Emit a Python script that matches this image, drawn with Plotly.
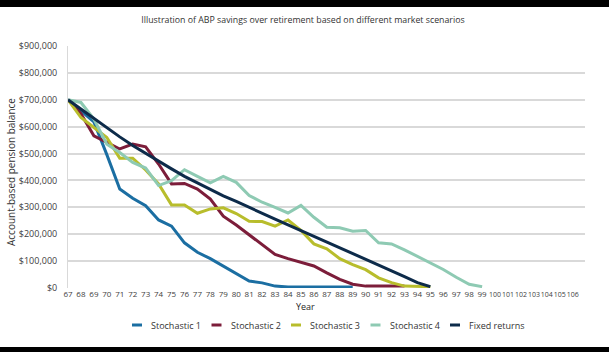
import plotly.graph_objects as go

W, H = 609, 352
ML, MR, MT, MB = 68, 24, 46, 64

years = list(range(67, 107))
tick_labels = [str(y) if y < 100 else "<span style='font-size:7px'>%d</span>" % y for y in years]

stochastic_1 = [700000, 660000, 618000, 496000, 368000, 334000, 306000, 253000, 230000, 168000,
                133000, 109000, 82000, 53000, 26000, 19000, 7000, 4000, 4000, 4000,
                4000, 4000, 4000]
stochastic_2 = [700000, 648000, 566000, 541000, 517000, 535000, 525000, 461000, 387000, 389000,
                368000, 331000, 267000, 234000, 197000, 162000, 125000, 109000, 96000, 82000,
                56000, 32000, 14000, 7000, 7000, 7000, 7000]
stochastic_3 = [700000, 634000, 597000, 560000, 483000, 483000, 439000, 387000, 309000, 309000,
                278000, 294000, 298000, 277000, 248000, 247000, 230000, 253000, 214000, 164000,
                146000, 109000, 87000, 68000, 38000, 20000, 7000, 5000, 5000]
stochastic_4 = [700000, 690000, 628000, 535000, 504000, 467000, 446000, 381000, 399000, 440000,
                415000, 391000, 415000, 393000, 344000, 319000, 300000, 279000, 307000, 263000,
                226000, 224000, 211000, 214000, 168000, 164000, 142000, 118000, 92000, 69000,
                40000, 14000, 5000]
fixed_returns = [700000, 665000, 630000, 595000, 562000, 530000, 500000, 470000, 443000, 415000,
                 390000, 366000, 343000, 322000, 299000, 277000, 256000, 235000, 214000, 193000,
                 172000, 151000, 129000, 107000, 85000, 64000, 42000, 20000, 5000]

series_names = ["Stochastic 1", "Stochastic 2", "Stochastic 3", "Stochastic 4", "Fixed returns"]
series_values = [stochastic_1, stochastic_2, stochastic_3, stochastic_4, fixed_returns]
series_colors = ["#1b6ea2", "#7c1d3a", "#b8bd2c", "#8ecab3", "#0d2b4a"]

y_ticks = list(range(0, 900001, 100000))
y_tick_text = ["$0"] + ["${:,}".format(v) for v in y_ticks[1:]]

FONT = "Open Sans"
fig = go.Figure()
for name, vals, col in zip(series_names, series_values, series_colors):
    fig.add_trace(go.Scatter(x=years[:len(vals)], y=vals, name=name, mode="lines",
                             line=dict(color=col, width=3), showlegend=False))

pw = W - ML - MR
ph = H - MT - MB

def px_x(px):
    return (px - ML) / pw

def px_y(py):
    return (H - MB - py) / ph

annotations = [
    dict(text="Account-based pension balance", textangle=-90, xref="paper", yref="paper",
         x=px_x(11), y=px_y(172), showarrow=False, xanchor="center", yanchor="middle",
         font=dict(family=FONT, size=10, color="#333333")),
    dict(text="Year", xref="paper", yref="paper", x=px_x(305), y=px_y(306),
         showarrow=False, xanchor="center", yanchor="middle",
         font=dict(family=FONT, size=9, color="#262626")),
]
shapes = [
    dict(type="rect", xref="paper", yref="paper", x0=px_x(0), x1=px_x(W), y0=px_y(0), y1=px_y(7),
         fillcolor="black", line=dict(width=0), layer="above"),
    dict(type="rect", xref="paper", yref="paper", x0=px_x(0), x1=px_x(W), y0=px_y(347), y1=px_y(H),
         fillcolor="black", line=dict(width=0), layer="above"),
]

# legend (row below the chart)
LEG_X0, LEG_STEP, LEG_Y = 132, 79.5, 325
for i, (name, col) in enumerate(zip(series_names, series_colors)):
    sx = LEG_X0 + i * LEG_STEP
    shapes.append(dict(type="line", xref="paper", yref="paper",
                       x0=px_x(sx), x1=px_x(sx + 10), y0=px_y(LEG_Y), y1=px_y(LEG_Y),
                       line=dict(color=col, width=3)))
    annotations.append(dict(text=name, xref="paper", yref="paper", x=px_x(sx + 17), y=px_y(LEG_Y),
                            showarrow=False, xanchor="left", yanchor="middle",
                            font=dict(family=FONT, size=9, color="#333333")))

fig.update_layout(
    width=W, height=H,
    margin=dict(l=ML, r=MR, t=MT, b=MB, pad=0, autoexpand=False),
    paper_bgcolor="white", plot_bgcolor="white",
    font=dict(family=FONT, size=9, color="#404040"),
    title=dict(text="Illustration of ABP savings over retirement based on different market scenarios",
               x=303 / W, xref="container", xanchor="center",
               y=1 - 20 / H, yref="container", yanchor="middle",
               font=dict(family=FONT, size=8.8, color="#333333")),
    xaxis=dict(range=[67, 106.95], tickmode="array", tickvals=years, ticktext=tick_labels,
               tickangle=0, automargin=False,
               showgrid=False, zeroline=False, showline=False, ticks="",
               tickfont=dict(family=FONT, size=8, color="#404040"),
               fixedrange=True),
    yaxis=dict(range=[0, 900000], tickmode="array", tickvals=y_ticks, ticktext=y_tick_text,
               automargin=False,
               showgrid=True, gridcolor="#d9d9d9", gridwidth=1.5, zeroline=False,
               showline=True, linecolor="#d9d9d9", linewidth=1,
               ticks="", ticklabelstandoff=8,
               tickfont=dict(size=9, color="#404040")),
    showlegend=False,
    annotations=annotations,
    shapes=shapes,
)

fig.write_html("out.html", config={"displayModeBar": False})
